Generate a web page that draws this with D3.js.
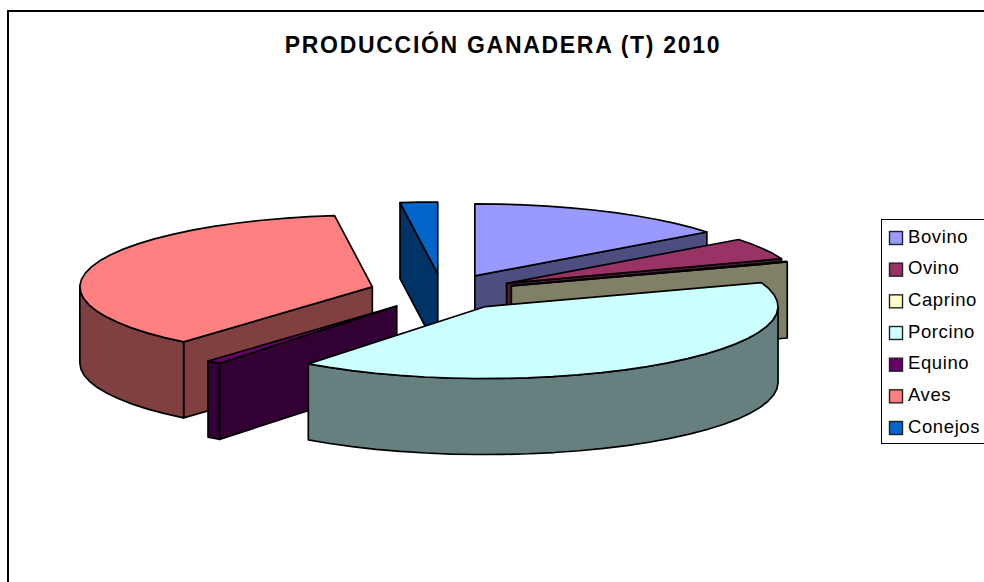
<!DOCTYPE html>
<html>
<head>
<meta charset="utf-8">
<script src="https://cdn.jsdelivr.net/npm/d3@7"></script>
<style>
  html, body { margin: 0; padding: 0; background: #fff; overflow: hidden; }
  text { font-family: "Liberation Sans", Arial, sans-serif; fill: #000; }
</style>
</head>
<body>
<div id="chart-area"></div>
<script>
// Datos (% aproximado de cada categoria)
var categories = ["Bovino", "Ovino", "Caprino", "Porcino", "Equino", "Aves", "Conejos"];
var shares = [14.58, 4.86, 0.17, 40.75, 0.80, 36.78, 2.06];
var colors = ["#9999FF", "#993366", "#FFFFCC", "#CCFFFF", "#660066", "#FF8080", "#0066CC"];
var chartTitle = "PRODUCCIÓN GANADERA (T) 2010";

// Orden de dibujo: de atras hacia delante
var drawOrder = ["Conejos", "Bovino", "Ovino", "Caprino", "Aves", "Equino", "Porcino"];

var width = 984, height = 582;
var depth = 76;
var explode = 0.25;

var svg = d3.select("#chart-area").append("svg")
    .attr("width", width)
    .attr("height", height);

// Marco del grafico (se corta por la derecha y por abajo)
svg.append("path")
    .attr("d", "M8," + height + "V11H" + width)
    .attr("fill", "none")
    .attr("stroke", "#000")
    .attr("stroke-width", 2);

svg.append("text")
    .attr("x", 503)
    .attr("y", 53)
    .attr("text-anchor", "middle")
    .attr("font-size", 23)
    .attr("font-weight", "bold")
    .attr("letter-spacing", 1.7)
    .text(chartTitle);

// Escalas: circulo unidad a elipse de la tarta
var xScale = d3.scaleLinear().domain([-1, 1]).range([150, 735]);
var yScale = d3.scaleLinear().domain([-1, 1]).range([364, 220]);

var pie = d3.pie().sort(null).value(d => d);
var slices = pie(shares).map(function(p, i) {
    return { name: categories[i], color: colors[i], start: p.startAngle, end: p.endAngle };
});

var line = d3.line();

// Punto de una porcion (separada de las demas), r = 0 es el vertice
function point(s, angle, r, drop) {
    var mid = (s.start + s.end) / 2;
    return [
        xScale(explode * Math.sin(mid) + r * Math.sin(angle)),
        yScale(explode * Math.cos(mid) + r * Math.cos(angle)) + drop
    ];
}

function arcPoints(s, a0, a1, drop) {
    var n = Math.max(2, Math.ceil((a1 - a0) / 0.09));
    return d3.range(n + 1).map(i => point(s, a0 + (a1 - a0) * i / n, 1, drop));
}

function shade(color) {
    var c = d3.rgb(color);
    return d3.rgb(c.r * 0.5, c.g * 0.5, c.b * 0.5).formatHex();
}

function face(g, pts, fill) {
    g.append("path")
        .attr("d", line(pts) + "Z")
        .attr("fill", fill)
        .attr("stroke", "#000")
        .attr("stroke-width", 1.7)
        .attr("stroke-linejoin", "round");
}

drawOrder.forEach(function(name) {
    var s = slices.find(d => d.name === name);
    var g = svg.append("g").attr("class", "slice");
    var dark = shade(s.color);

    // Pared radial: solo se ve si la cara superior queda por encima de ella
    if (s.end < Math.PI) {
        face(g, [point(s, 0, 0, 0), point(s, s.end, 1, 0), point(s, s.end, 1, depth), point(s, 0, 0, depth)], dark);
    }
    if (s.start > Math.PI) {
        face(g, [point(s, 0, 0, 0), point(s, s.start, 1, 0), point(s, s.start, 1, depth), point(s, 0, 0, depth)], dark);
    }

    // Pared exterior: solo la mitad delantera de la elipse
    var a0 = Math.max(s.start, Math.PI / 2);
    var a1 = Math.min(s.end, Math.PI * 1.5);
    if (a1 > a0) {
        face(g, arcPoints(s, a0, a1, 0).concat(arcPoints(s, a0, a1, depth).reverse()), dark);
    }

    // Cara superior
    face(g, [point(s, 0, 0, 0)].concat(arcPoints(s, s.start, s.end, 0)), s.color);
});

// Leyenda
var legendY = d3.scalePoint().domain(categories).range([237, 427]);

svg.append("rect")
    .attr("x", 881.5)
    .attr("y", 219.5)
    .attr("width", 120)
    .attr("height", 224)
    .attr("fill", "#fff")
    .attr("stroke", "#000")
    .attr("stroke-width", 1);

var rows = svg.selectAll("g.legend-row")
    .data(slices)
    .enter()
    .append("g")
        .attr("class", "legend-row")
        .attr("transform", d => "translate(0," + legendY(d.name) + ")");

rows.append("rect")
    .attr("x", 889.5)
    .attr("y", -5.5)
    .attr("width", 13)
    .attr("height", 13)
    .attr("fill", d => d.color)
    .attr("stroke", "#222")
    .attr("stroke-width", 1.4);

rows.append("text")
    .attr("x", 908)
    .attr("y", 5.5)
    .attr("font-size", 18.5)
    .attr("letter-spacing", 0.6)
    .text(d => d.name);
</script>
</body>
</html>
